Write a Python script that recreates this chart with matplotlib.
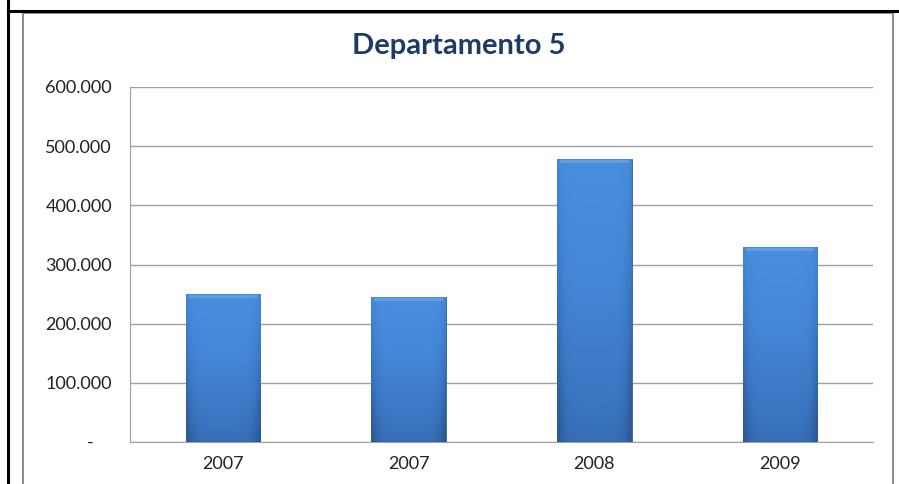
import matplotlib.pyplot as plt
import numpy as np
from matplotlib.lines import Line2D
from matplotlib.patches import Rectangle
from matplotlib.colors import LinearSegmentedColormap
from matplotlib.ticker import FuncFormatter

## Data ---------------------------------------------

years = ["2007", "2007", "2008", "2009"]
values = [250000, 245000, 478000, 330000]
yticks = [0, 100000, 200000, 300000, 400000, 500000, 600000]

plt.rcParams['font.family'] = ['Lato', 'DejaVu Sans']

fig = plt.figure(figsize=(8.99, 4.84), dpi=100)
ax = fig.add_axes([130 / 899, 1 - 442 / 484, 743 / 899, 355 / 484])

## Frame --------------------------------------------

fig.add_artist(Line2D([8 / 899, 8 / 899], [0, 1], color="black", lw=2.2))
fig.add_artist(Line2D([8 / 899, 1], [1 - 11 / 484, 1 - 11 / 484], color="black", lw=2.2))
fig.add_artist(Rectangle((23 / 899, -0.05), (893 - 23) / 899, 1.05 - 13 / 484,
                         transform=fig.transFigure, fill=False, ec="#8a8a8a", lw=1.4))

## Bars ---------------------------------------------

x = np.arange(len(years))
bars = ax.bar(x, values, width=0.40, color="#3b78c8", zorder=3,
              edgecolor="#2f5f9c", linewidth=0.6)

cmap = LinearSegmentedColormap.from_list("bevel", ["#2d5a96", "#3a74c0", "#4486d6", "#4a8fdd"])
gy = np.linspace(0, 1, 200)[:, None]
gx = np.linspace(-1, 1, 60)[None, :]
shade = (1 - gy) * 0.75 + 0.25 - 0.35 * np.abs(gx) ** 6
shade = np.clip(shade, 0, 1)
for b in bars:
    x0, w, h = b.get_x(), b.get_width(), b.get_height()
    im = ax.imshow(shade, cmap=cmap, vmin=0, vmax=1, aspect="auto",
                   extent=(x0, x0 + w, 0, h), origin="upper", zorder=3.5)
    im.set_clip_path(b)
    # light top bevel
    ax.add_patch(Rectangle((x0 + w * 0.04, h - 7000), w * 0.92, 5000,
                           color="#6aa6ea", alpha=0.7, zorder=4, lw=0))

## Axes ---------------------------------------------

ax.set_xlim(-0.5, len(years) - 0.5)
ax.set_ylim(0, 600000)
ax.set_yticks(yticks)
ax.yaxis.set_major_formatter(FuncFormatter(
    lambda v, p: "-    " if v == 0 else f"{int(v):,}".replace(",", ".")))
ax.set_xticks(x)
ax.set_xticklabels(years)
ax.grid(axis="y", color="#a0a0a0", lw=1, zorder=0)
ax.tick_params(length=0, labelsize=13, colors="#222222")
ax.tick_params(axis="y", pad=13)
ax.tick_params(axis="x", pad=10)
for s in ["top", "right"]:
    ax.spines[s].set_visible(False)
for s in ["left", "bottom"]:
    ax.spines[s].set_color("#a0a0a0")

fig.text(459 / 899, 1 - 46 / 484, "Departamento 5", ha="center", va="center",
         fontsize=21, fontweight="bold", color="#1c3b66")

fig.savefig("out.png", dpi=100)
